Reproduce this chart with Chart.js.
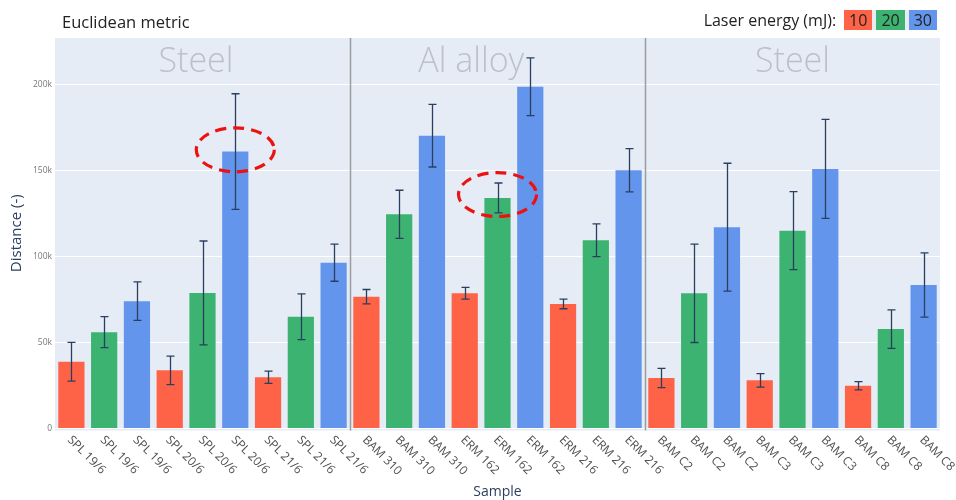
<!DOCTYPE html>
<html>
<head>
<meta charset="utf-8">
<script src="https://cdn.jsdelivr.net/npm/chart.js@4"></script>
<style>
  body { margin: 0; background: #fff; font-family: "Open Sans", sans-serif; }
  #wrap { position: relative; width: 956px; height: 500px; }
  #title { position: absolute; left: 62px; top: 10px; font-size: 16.5px; color: #222; }
  #legend { position: absolute; right: 19px; top: 9px; display: flex; align-items: center; font-size: 16px; color: #222; }
  #legend .lbl { margin-right: 8px; }
  #legend .boxes { display: flex; background: #e5ecf6; }
  #legend .box { height: 20px; line-height: 20px; padding: 0 5px; margin-right: 4px; }
  #legend .box:last-child { margin-right: 0; }
</style>
</head>
<body>
<div id="wrap">
  <canvas id="chart"></canvas>
  <div id="title">Euclidean metric</div>
  <div id="legend"><span class="lbl">Laser energy (mJ):</span><span class="boxes" id="boxes"></span></div>
</div>
<script>
// chart data
var categories = ['SPL 19/6', 'SPL 19/6', 'SPL 19/6', 'SPL 20/6', 'SPL 20/6', 'SPL 20/6', 'SPL 21/6', 'SPL 21/6', 'SPL 21/6',
    'BAM 310', 'BAM 310', 'BAM 310', 'ERM 162', 'ERM 162', 'ERM 162', 'ERM 216', 'ERM 216', 'ERM 216',
    'BAM C2', 'BAM C2', 'BAM C2', 'BAM C3', 'BAM C3', 'BAM C3', 'BAM C8', 'BAM C8', 'BAM C8'];
var energy = [10, 20, 30, 10, 20, 30, 10, 20, 30, 10, 20, 30, 10, 20, 30, 10, 20, 30, 10, 20, 30, 10, 20, 30, 10, 20, 30];
var distance = [38800, 56000, 74000, 33800, 78800, 161000, 29800, 65000, 96400,
    76600, 124500, 170200, 78600, 134000, 198700, 72400, 109400, 150100,
    29400, 78600, 117000, 28000, 115000, 150900, 24900, 57800, 83400];
var distanceErr = [11300, 9000, 11200, 8300, 30200, 33600, 3600, 13300, 10800,
    4200, 14000, 18200, 3400, 8700, 16800, 2800, 9500, 12600,
    5600, 28600, 37200, 3900, 22700, 28800, 2400, 11200, 18700];
var energyLevels = [10, 20, 30];
var materials = ['Steel', 'Al alloy', 'Steel'];
var materialPos = [3.8, 12.2, 22.0];
var dividers = [8.5, 17.5];
var highlightIndex = [5, 13];
var highlightValue = [162000, 136000];
var yTicks = [0, 50000, 100000, 150000, 200000];

var colours = { 10: 'tomato', 20: 'mediumseagreen', 30: 'cornflowerblue' };

// legend boxes
var boxes = document.getElementById('boxes');
energyLevels.forEach(function(e) {
    var s = document.createElement('span');
    s.className = 'box';
    s.style.background = colours[e];
    s.textContent = e;
    boxes.appendChild(s);
});

// background, dividers, material labels, error bars, x labels, highlights
var extras = {
    id: 'extras',
    beforeDraw: function(chart) {
        var a = chart.chartArea, c = chart.ctx;
        c.save();
        c.fillStyle = '#e5ecf6';
        c.fillRect(a.left, a.top, a.right - a.left, a.bottom - a.top + 2);
        c.restore();
    },
    beforeDatasetsDraw: function(chart) {
        var a = chart.chartArea, c = chart.ctx, x = chart.scales.x;
        c.save();
        c.font = '300 34px "Open Sans"';
        c.fillStyle = '#bcc0c8';
        c.textAlign = 'center';
        c.textBaseline = 'middle';
        materials.forEach(function(m, i) {
            c.fillText(m, x.getPixelForValue(materialPos[i]), 62);
        });
        c.strokeStyle = '#9a9ca0';
        c.lineWidth = 1.5;
        dividers.forEach(function(d) {
            var px = Math.round(x.getPixelForValue(d)) + 0.5;
            c.beginPath();
            c.moveTo(px, a.top);
            c.lineTo(px, a.bottom + 2);
            c.stroke();
        });
        c.restore();
    },
    afterDatasetsDraw: function(chart) {
        var c = chart.ctx, x = chart.scales.x, y = chart.scales.y;
        c.save();
        c.strokeStyle = '#2a3f5f';
        c.lineWidth = 1.3;
        distance.forEach(function(v, i) {
            var px = Math.round(x.getPixelForValue(i)) + 0.5;
            var hi = y.getPixelForValue(v + distanceErr[i]);
            var lo = y.getPixelForValue(v - distanceErr[i]);
            c.beginPath();
            c.moveTo(px, hi); c.lineTo(px, lo);
            c.moveTo(px - 4, hi); c.lineTo(px + 4, hi);
            c.moveTo(px - 4, lo); c.lineTo(px + 4, lo);
            c.stroke();
        });
        // x tick labels, slanted down to the right
        c.fillStyle = '#505050';
        c.font = '12px "Open Sans"';
        c.textAlign = 'left';
        c.textBaseline = 'middle';
        categories.forEach(function(lab, i) {
            c.save();
            c.translate(x.getPixelForValue(i) - 2, 438);
            c.rotate(Math.PI / 4);
            c.fillText(lab, 0, 0);
            c.restore();
        });
        // red dashed ellipses
        c.strokeStyle = '#ee1111';
        c.lineWidth = 3.2;
        c.setLineDash([11, 7]);
        highlightIndex.forEach(function(idx, i) {
            c.beginPath();
            c.ellipse(x.getPixelForValue(idx), y.getPixelForValue(highlightValue[i]), 39, 22, 0, 0, Math.PI * 2);
            c.stroke();
        });
        c.restore();
    }
};

var ctx = document.getElementById('chart').getContext('2d');
var distChart = new Chart(ctx, {
    type: 'bar',
    data: {
        labels: categories,
        datasets: [{
            data: distance,
            backgroundColor: energy.map(function(e) { return colours[e]; }),
            barPercentage: 0.8,
            categoryPercentage: 1.0,
        }],
    },
    options: {
        responsive: true,
        maintainAspectRatio: false,
        animation: false,
        layout: { padding: { top: 38, right: 16, left: 0, bottom: 0 } },
        plugins: {
            legend: { display: false },
            tooltip: { enabled: false },
        },
        scales: {
            x: {
                grid: { display: false },
                border: { display: false },
                ticks: { display: false },
                title: {
                    display: true,
                    text: 'Sample',
                    color: '#2a3f5f',
                    font: { family: 'Open Sans', size: 14 },
                    padding: { top: 0, bottom: 0 },
                },
                afterFit: function(scale) { scale.height = 71.5; },
            },
            y: {
                min: 0,
                max: 227000,
                grid: { color: '#ffffff', lineWidth: 1, drawTicks: false },
                border: { display: false },
                afterBuildTicks: function(scale) {
                    scale.ticks = yTicks.map(function(v) { return { value: v }; });
                },
                ticks: {
                    padding: 3,
                    color: '#777',
                    font: { family: 'Open Sans', size: 8.5 },
                    callback: function(value) {
                        return value === 0 ? '0' : (value / 1000) + 'k'; // 50k style labels
                    },
                },
                title: {
                    display: true,
                    text: 'Distance (-)',
                    color: '#2a3f5f',
                    font: { family: 'Open Sans', size: 15 },
                    padding: { top: 8, bottom: 0 },
                },
                afterFit: function(scale) { scale.width = 55; },
            },
        },
    },
    plugins: [extras],
});
</script>
</body>
</html>
